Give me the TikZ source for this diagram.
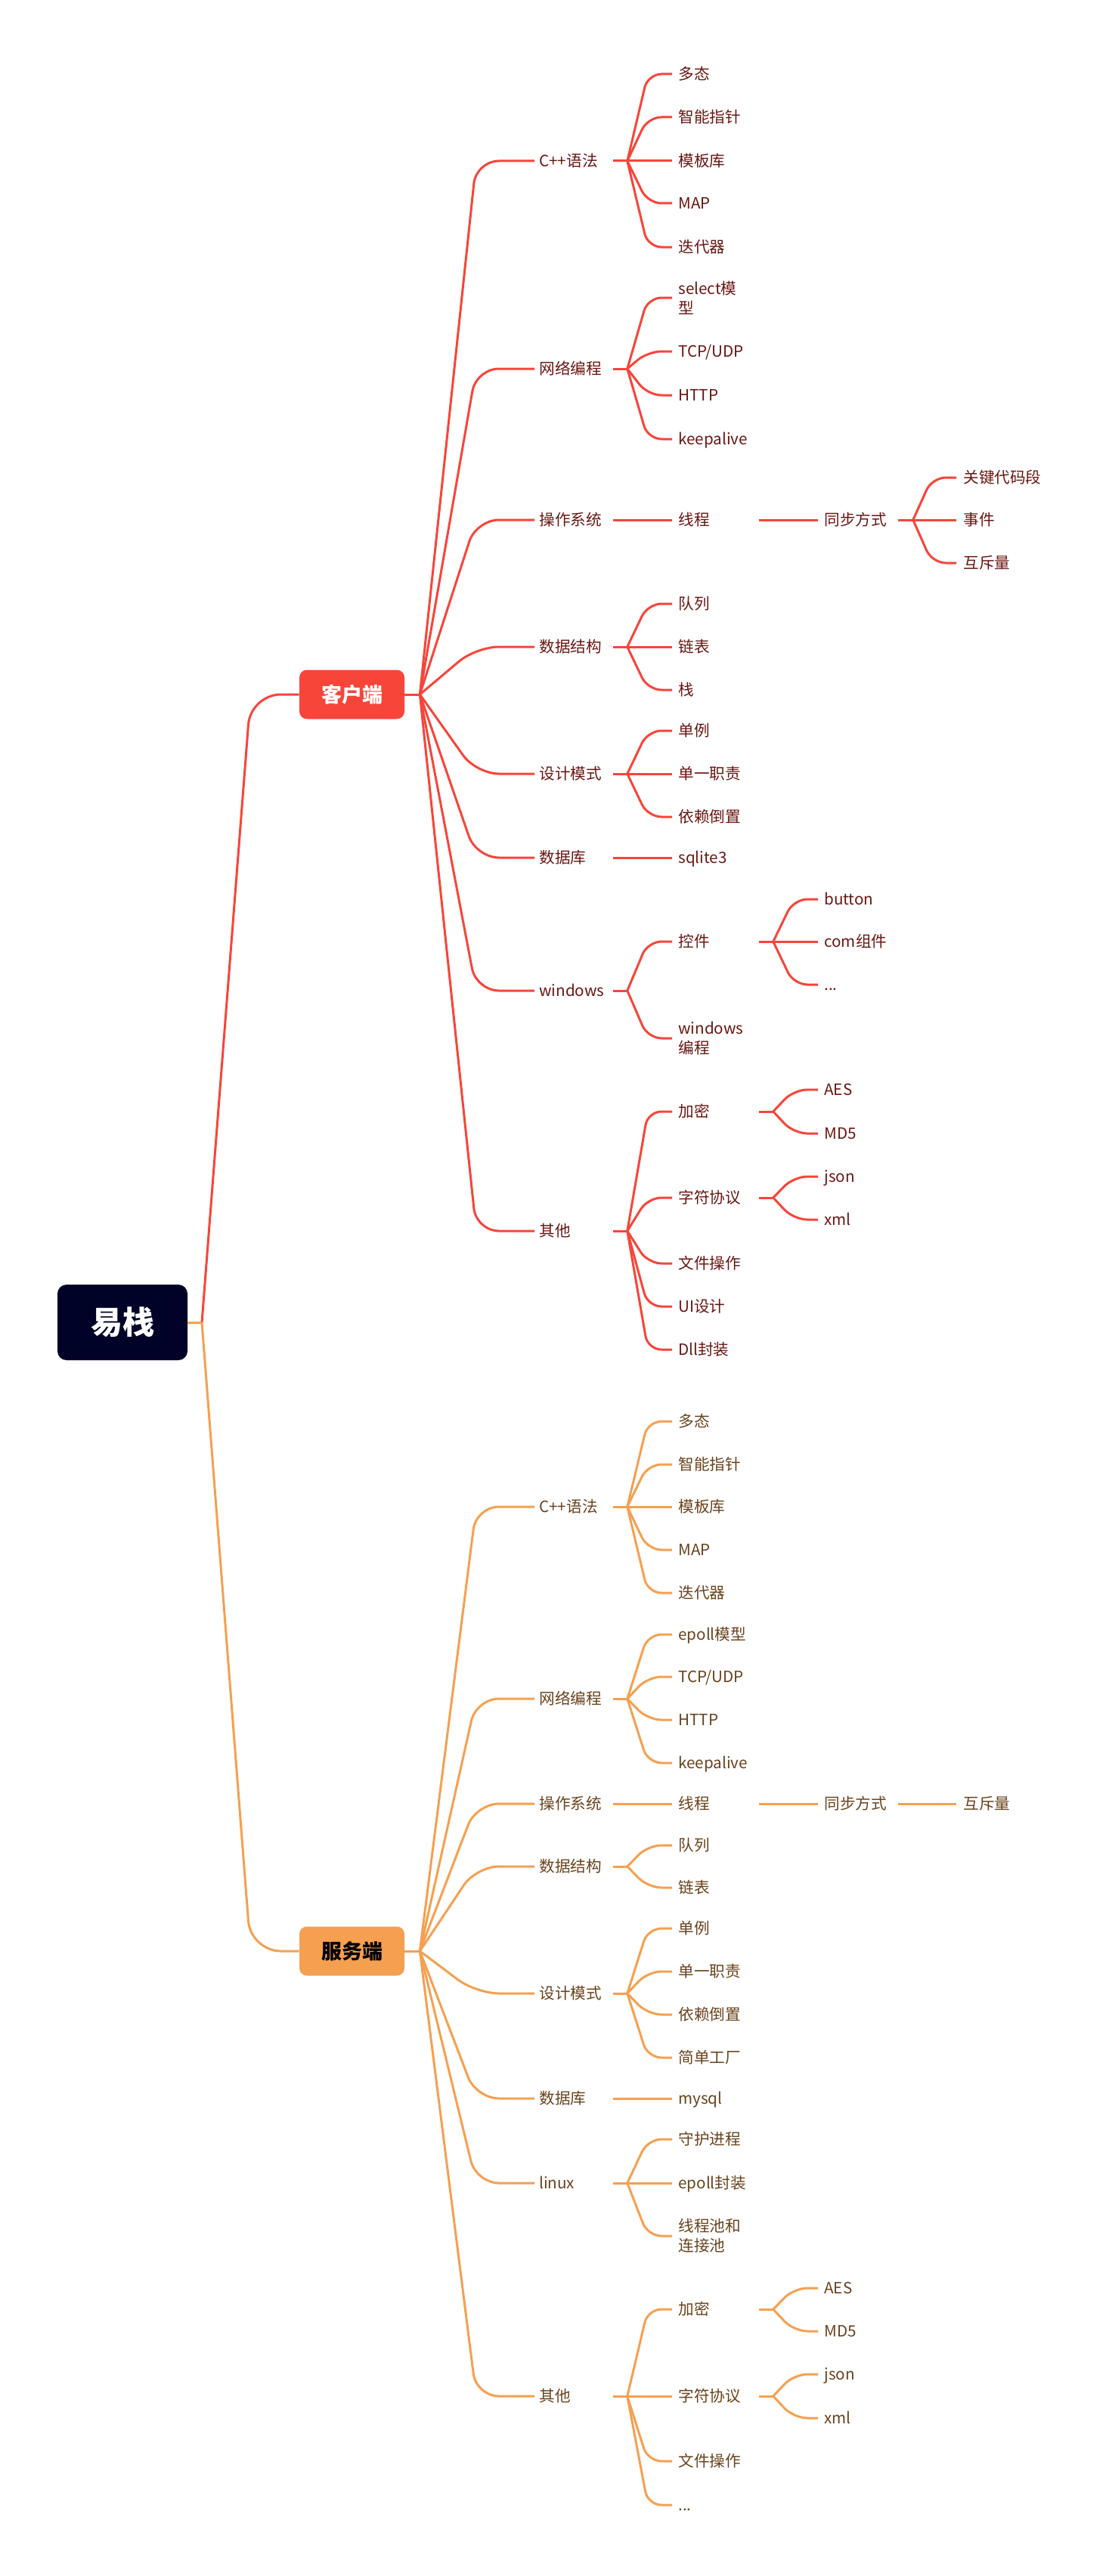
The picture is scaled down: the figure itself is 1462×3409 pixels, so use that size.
\documentclass[tikz,border=0pt]{standalone}
\usepackage{fontspec}
\setmainfont{Noto Sans CJK SC}
\usepackage{xcolor}
\definecolor{rootbg}{RGB}{0,2,40}
\definecolor{kred}{RGB}{247,69,58}
\definecolor{korange}{RGB}{245,160,80}
\definecolor{kredtxt}{RGB}{105,22,18}
\definecolor{korgtxt}{RGB}{105,66,28}

\begin{document}
\begin{tikzpicture}[x=0.5pt,y=-0.5pt,
every node/.style={font=\fontsize{10.3}{13}\selectfont},
lvtwo/.style={anchor=west,inner xsep=3pt,inner ysep=0pt,text width=45.5pt,align=left,text height=9pt,text depth=1.3pt},
lvthree/.style={anchor=west,inner xsep=4pt,inner ysep=0pt,text width=49pt,align=left,text height=9pt,text depth=1.3pt},
lvfour/.style={anchor=west,inner xsep=4pt,inner ysep=0pt,text width=44.5pt,align=left,text height=9pt,text depth=1.3pt},
lvfive/.style={anchor=west,inner xsep=4.5pt,inner ysep=0pt,text height=9pt,text depth=1.3pt},
twoline/.style={text height=,text depth=},
ctext/.style={text=kredtxt},
stext/.style={text=korgtxt},
rootbox/.style={fill=rootbg,text=white,rounded corners=6pt,minimum width=86pt,minimum height=50pt,inner sep=0pt,font=\fontsize{21}{25}\selectfont\bfseries},
cbox/.style={fill=kred,text=white,rounded corners=5pt,minimum width=69.5pt,minimum height=32.5pt,inner sep=0pt,font=\fontsize{13.5}{16}\selectfont\bfseries},
sbox/.style={fill=korange,text=black,rounded corners=5pt,minimum width=69.5pt,minimum height=32.5pt,inner sep=0pt,font=\fontsize{13.5}{16}\selectfont\bfseries},
cl/.style={draw=kred,line width=1.5pt},
sl/.style={draw=korange,line width=1.5pt},
tozero/.style={rounded corners=20pt,to path={-- ([xshift=-32pt]\tikztotarget) -- (\tikztotarget)}},
toone/.style={rounded corners=15pt,to path={-- ([xshift=-38.5pt]\tikztotarget) -- (\tikztotarget)}},
totwo/.style={rounded corners=9pt,to path={-- ([xshift=-16pt]\tikztotarget) -- (\tikztotarget)}}]
\useasboundingbox (0,0) rectangle (1462,3409);

\node[rootbox] (root) at (162,1750) {易栈};
\node[cbox] (cli) at (465.5,919) {客户端};
\node[sbox] (srv) at (465.5,2582) {服务端};

\node[lvtwo,ctext] (c1) at (707,213) {C++语法};
\node[lvtwo,ctext] (c2) at (707,488) {网络编程};
\node[lvtwo,ctext] (c3) at (707,688) {操作系统};
\node[lvtwo,ctext] (c4) at (707,856) {数据结构};
\node[lvtwo,ctext] (c5) at (707,1024) {设计模式};
\node[lvtwo,ctext] (c6) at (707,1135) {数据库};
\node[lvtwo,ctext] (c7) at (707,1311) {windows};
\node[lvtwo,ctext] (c8) at (707,1629) {其他};

\node[lvthree,ctext] (c1a) at (889,98) {多态};
\node[lvthree,ctext] (c1b) at (889,155) {智能指针};
\node[lvthree,ctext] (c1c) at (889,213) {模板库};
\node[lvthree,ctext] (c1d) at (889,269) {MAP};
\node[lvthree,ctext] (c1e) at (889,327) {迭代器};
\node[lvthree,ctext,twoline] (c2a) at (889,394) {select模\\型};
\node[lvthree,ctext] (c2b) at (889,465) {TCP/UDP};
\node[lvthree,ctext] (c2c) at (889,523) {HTTP};
\node[lvthree,ctext] (c2d) at (889,581) {keepalive};
\node[lvthree,ctext] (c3a) at (889,688) {线程};
\node[lvthree,ctext] (c4a) at (889,799) {队列};
\node[lvthree,ctext] (c4b) at (889,856) {链表};
\node[lvthree,ctext] (c4c) at (889,913) {栈};
\node[lvthree,ctext] (c5a) at (889,967) {单例};
\node[lvthree,ctext] (c5b) at (889,1024) {单一职责};
\node[lvthree,ctext] (c5c) at (889,1081) {依赖倒置};
\node[lvthree,ctext] (c6a) at (889,1135) {sqlite3};
\node[lvthree,ctext] (c7a) at (889,1246) {控件};
\node[lvthree,ctext,twoline] (c7b) at (889,1374) {windows\\编程};
\node[lvthree,ctext] (c8a) at (889,1471) {加密};
\node[lvthree,ctext] (c8b) at (889,1585) {字符协议};
\node[lvthree,ctext] (c8c) at (889,1672) {文件操作};
\node[lvthree,ctext] (c8d) at (889,1729) {UI设计};
\node[lvthree,ctext] (c8e) at (889,1786) {Dll封装};

\node[lvfour,ctext] (c3a1) at (1082,688) {同步方式};
\node[lvfour,ctext] (c7a1) at (1082,1190) {button};
\node[lvfour,ctext] (c7a2) at (1082,1246) {com组件};
\node[lvfour,ctext] (c7a3) at (1082,1303) {...};
\node[lvfour,ctext] (c8a1) at (1082,1442) {AES};
\node[lvfour,ctext] (c8a2) at (1082,1500) {MD5};
\node[lvfour,ctext] (c8b1) at (1082,1557) {json};
\node[lvfour,ctext] (c8b2) at (1082,1614) {xml};

\node[lvfive,ctext] (c3a1a) at (1265,632) {关键代码段};
\node[lvfive,ctext] (c3a1b) at (1265,688) {事件};
\node[lvfive,ctext] (c3a1c) at (1265,745) {互斥量};

\node[lvtwo,stext] (s1) at (707,1994) {C++语法};
\node[lvtwo,stext] (s2) at (707,2248) {网络编程};
\node[lvtwo,stext] (s3) at (707,2387) {操作系统};
\node[lvtwo,stext] (s4) at (707,2470) {数据结构};
\node[lvtwo,stext] (s5) at (707,2638) {设计模式};
\node[lvtwo,stext] (s6) at (707,2777) {数据库};
\node[lvtwo,stext] (s7) at (707,2889) {linux};
\node[lvtwo,stext] (s8) at (707,3171) {其他};

\node[lvthree,stext] (s1a) at (889,1881) {多态};
\node[lvthree,stext] (s1b) at (889,1938) {智能指针};
\node[lvthree,stext] (s1c) at (889,1994) {模板库};
\node[lvthree,stext] (s1d) at (889,2051) {MAP};
\node[lvthree,stext] (s1e) at (889,2108) {迭代器};
\node[lvthree,stext] (s2a) at (889,2163) {epoll模型};
\node[lvthree,stext] (s2b) at (889,2219) {TCP/UDP};
\node[lvthree,stext] (s2c) at (889,2276) {HTTP};
\node[lvthree,stext] (s2d) at (889,2333) {keepalive};
\node[lvthree,stext] (s3a) at (889,2387) {线程};
\node[lvthree,stext] (s4a) at (889,2442) {队列};
\node[lvthree,stext] (s4b) at (889,2498) {链表};
\node[lvthree,stext] (s5a) at (889,2552) {单例};
\node[lvthree,stext] (s5b) at (889,2609) {单一职责};
\node[lvthree,stext] (s5c) at (889,2666) {依赖倒置};
\node[lvthree,stext] (s5d) at (889,2723) {简单工厂};
\node[lvthree,stext] (s6a) at (889,2777) {mysql};
\node[lvthree,stext] (s7a) at (889,2831) {守护进程};
\node[lvthree,stext] (s7b) at (889,2889) {epoll封装};
\node[lvthree,stext,twoline] (s7c) at (889,2959) {线程池和\\连接池};
\node[lvthree,stext] (s8a) at (889,3056) {加密};
\node[lvthree,stext] (s8b) at (889,3171) {字符协议};
\node[lvthree,stext] (s8c) at (889,3257) {文件操作};
\node[lvthree,stext] (s8d) at (889,3315) {...};

\node[lvfour,stext] (s3a1) at (1082,2387) {同步方式};
\node[lvfour,stext] (s8a1) at (1082,3028) {AES};
\node[lvfour,stext] (s8a2) at (1082,3085) {MD5};
\node[lvfour,stext] (s8b1) at (1082,3142) {json};
\node[lvfour,stext] (s8b2) at (1082,3200) {xml};

\node[lvfive,stext] (s3a1a) at (1265,2387) {互斥量};

\coordinate (k0) at (267,1750);
\draw[cl,tozero] (k0) to (cli.west);
\draw[sl,tozero] (k0) to (srv.west);
\draw[sl] (root.east) -- (k0);

\draw[cl] (cli.east) -- ++(20,0) coordinate (kc);
\draw[cl,toone] (kc) to (c1.west);
\draw[cl,toone] (kc) to (c2.west);
\draw[cl,toone] (kc) to (c3.west);
\draw[cl,toone] (kc) to (c4.west);
\draw[cl,toone] (kc) to (c5.west);
\draw[cl,toone] (kc) to (c6.west);
\draw[cl,toone] (kc) to (c7.west);
\draw[cl,toone] (kc) to (c8.west);

\draw[cl] (c1.east) -- ++(19,0) coordinate (kc1);
\draw[cl,totwo] (kc1) to (c1a.west);
\draw[cl,totwo] (kc1) to (c1b.west);
\draw[cl,totwo] (kc1) to (c1c.west);
\draw[cl,totwo] (kc1) to (c1d.west);
\draw[cl,totwo] (kc1) to (c1e.west);
\draw[cl] (c2.east) -- ++(19,0) coordinate (kc2);
\draw[cl,totwo] (kc2) to (c2a.west);
\draw[cl,totwo] (kc2) to (c2b.west);
\draw[cl,totwo] (kc2) to (c2c.west);
\draw[cl,totwo] (kc2) to (c2d.west);
\draw[cl] (c3.east) -- ++(19,0) coordinate (kc3);
\draw[cl,totwo] (kc3) to (c3a.west);
\draw[cl] (c4.east) -- ++(19,0) coordinate (kc4);
\draw[cl,totwo] (kc4) to (c4a.west);
\draw[cl,totwo] (kc4) to (c4b.west);
\draw[cl,totwo] (kc4) to (c4c.west);
\draw[cl] (c5.east) -- ++(19,0) coordinate (kc5);
\draw[cl,totwo] (kc5) to (c5a.west);
\draw[cl,totwo] (kc5) to (c5b.west);
\draw[cl,totwo] (kc5) to (c5c.west);
\draw[cl] (c6.east) -- ++(19,0) coordinate (kc6);
\draw[cl,totwo] (kc6) to (c6a.west);
\draw[cl] (c7.east) -- ++(19,0) coordinate (kc7);
\draw[cl,totwo] (kc7) to (c7a.west);
\draw[cl,totwo] (kc7) to (c7b.west);
\draw[cl] (c8.east) -- ++(19,0) coordinate (kc8);
\draw[cl,totwo] (kc8) to (c8a.west);
\draw[cl,totwo] (kc8) to (c8b.west);
\draw[cl,totwo] (kc8) to (c8c.west);
\draw[cl,totwo] (kc8) to (c8d.west);
\draw[cl,totwo] (kc8) to (c8e.west);

\draw[cl] (c3a.east) -- ++(19,0) coordinate (kc3a);
\draw[cl,totwo] (kc3a) to (c3a1.west);
\draw[cl] (c7a.east) -- ++(19,0) coordinate (kc7a);
\draw[cl,totwo] (kc7a) to (c7a1.west);
\draw[cl,totwo] (kc7a) to (c7a2.west);
\draw[cl,totwo] (kc7a) to (c7a3.west);
\draw[cl] (c8a.east) -- ++(19,0) coordinate (kc8a);
\draw[cl,totwo] (kc8a) to (c8a1.west);
\draw[cl,totwo] (kc8a) to (c8a2.west);
\draw[cl] (c8b.east) -- ++(19,0) coordinate (kc8b);
\draw[cl,totwo] (kc8b) to (c8b1.west);
\draw[cl,totwo] (kc8b) to (c8b2.west);

\draw[cl] (c3a1.east) -- ++(20,0) coordinate (kc3a1);
\draw[cl,totwo] (kc3a1) to (c3a1a.west);
\draw[cl,totwo] (kc3a1) to (c3a1b.west);
\draw[cl,totwo] (kc3a1) to (c3a1c.west);

\draw[sl] (srv.east) -- ++(20,0) coordinate (ks);
\draw[sl,toone] (ks) to (s1.west);
\draw[sl,toone] (ks) to (s2.west);
\draw[sl,toone] (ks) to (s3.west);
\draw[sl,toone] (ks) to (s4.west);
\draw[sl,toone] (ks) to (s5.west);
\draw[sl,toone] (ks) to (s6.west);
\draw[sl,toone] (ks) to (s7.west);
\draw[sl,toone] (ks) to (s8.west);

\draw[sl] (s1.east) -- ++(19,0) coordinate (ks1);
\draw[sl,totwo] (ks1) to (s1a.west);
\draw[sl,totwo] (ks1) to (s1b.west);
\draw[sl,totwo] (ks1) to (s1c.west);
\draw[sl,totwo] (ks1) to (s1d.west);
\draw[sl,totwo] (ks1) to (s1e.west);
\draw[sl] (s2.east) -- ++(19,0) coordinate (ks2);
\draw[sl,totwo] (ks2) to (s2a.west);
\draw[sl,totwo] (ks2) to (s2b.west);
\draw[sl,totwo] (ks2) to (s2c.west);
\draw[sl,totwo] (ks2) to (s2d.west);
\draw[sl] (s3.east) -- ++(19,0) coordinate (ks3);
\draw[sl,totwo] (ks3) to (s3a.west);
\draw[sl] (s4.east) -- ++(19,0) coordinate (ks4);
\draw[sl,totwo] (ks4) to (s4a.west);
\draw[sl,totwo] (ks4) to (s4b.west);
\draw[sl] (s5.east) -- ++(19,0) coordinate (ks5);
\draw[sl,totwo] (ks5) to (s5a.west);
\draw[sl,totwo] (ks5) to (s5b.west);
\draw[sl,totwo] (ks5) to (s5c.west);
\draw[sl,totwo] (ks5) to (s5d.west);
\draw[sl] (s6.east) -- ++(19,0) coordinate (ks6);
\draw[sl,totwo] (ks6) to (s6a.west);
\draw[sl] (s7.east) -- ++(19,0) coordinate (ks7);
\draw[sl,totwo] (ks7) to (s7a.west);
\draw[sl,totwo] (ks7) to (s7b.west);
\draw[sl,totwo] (ks7) to (s7c.west);
\draw[sl] (s8.east) -- ++(19,0) coordinate (ks8);
\draw[sl,totwo] (ks8) to (s8a.west);
\draw[sl,totwo] (ks8) to (s8b.west);
\draw[sl,totwo] (ks8) to (s8c.west);
\draw[sl,totwo] (ks8) to (s8d.west);

\draw[sl] (s3a.east) -- ++(19,0) coordinate (ks3a);
\draw[sl,totwo] (ks3a) to (s3a1.west);
\draw[sl] (s8a.east) -- ++(19,0) coordinate (ks8a);
\draw[sl,totwo] (ks8a) to (s8a1.west);
\draw[sl,totwo] (ks8a) to (s8a2.west);
\draw[sl] (s8b.east) -- ++(19,0) coordinate (ks8b);
\draw[sl,totwo] (ks8b) to (s8b1.west);
\draw[sl,totwo] (ks8b) to (s8b2.west);

\draw[sl] (s3a1.east) -- ++(20,0) coordinate (ks3a1);
\draw[sl,totwo] (ks3a1) to (s3a1a.west);
\end{tikzpicture}
\end{document}
